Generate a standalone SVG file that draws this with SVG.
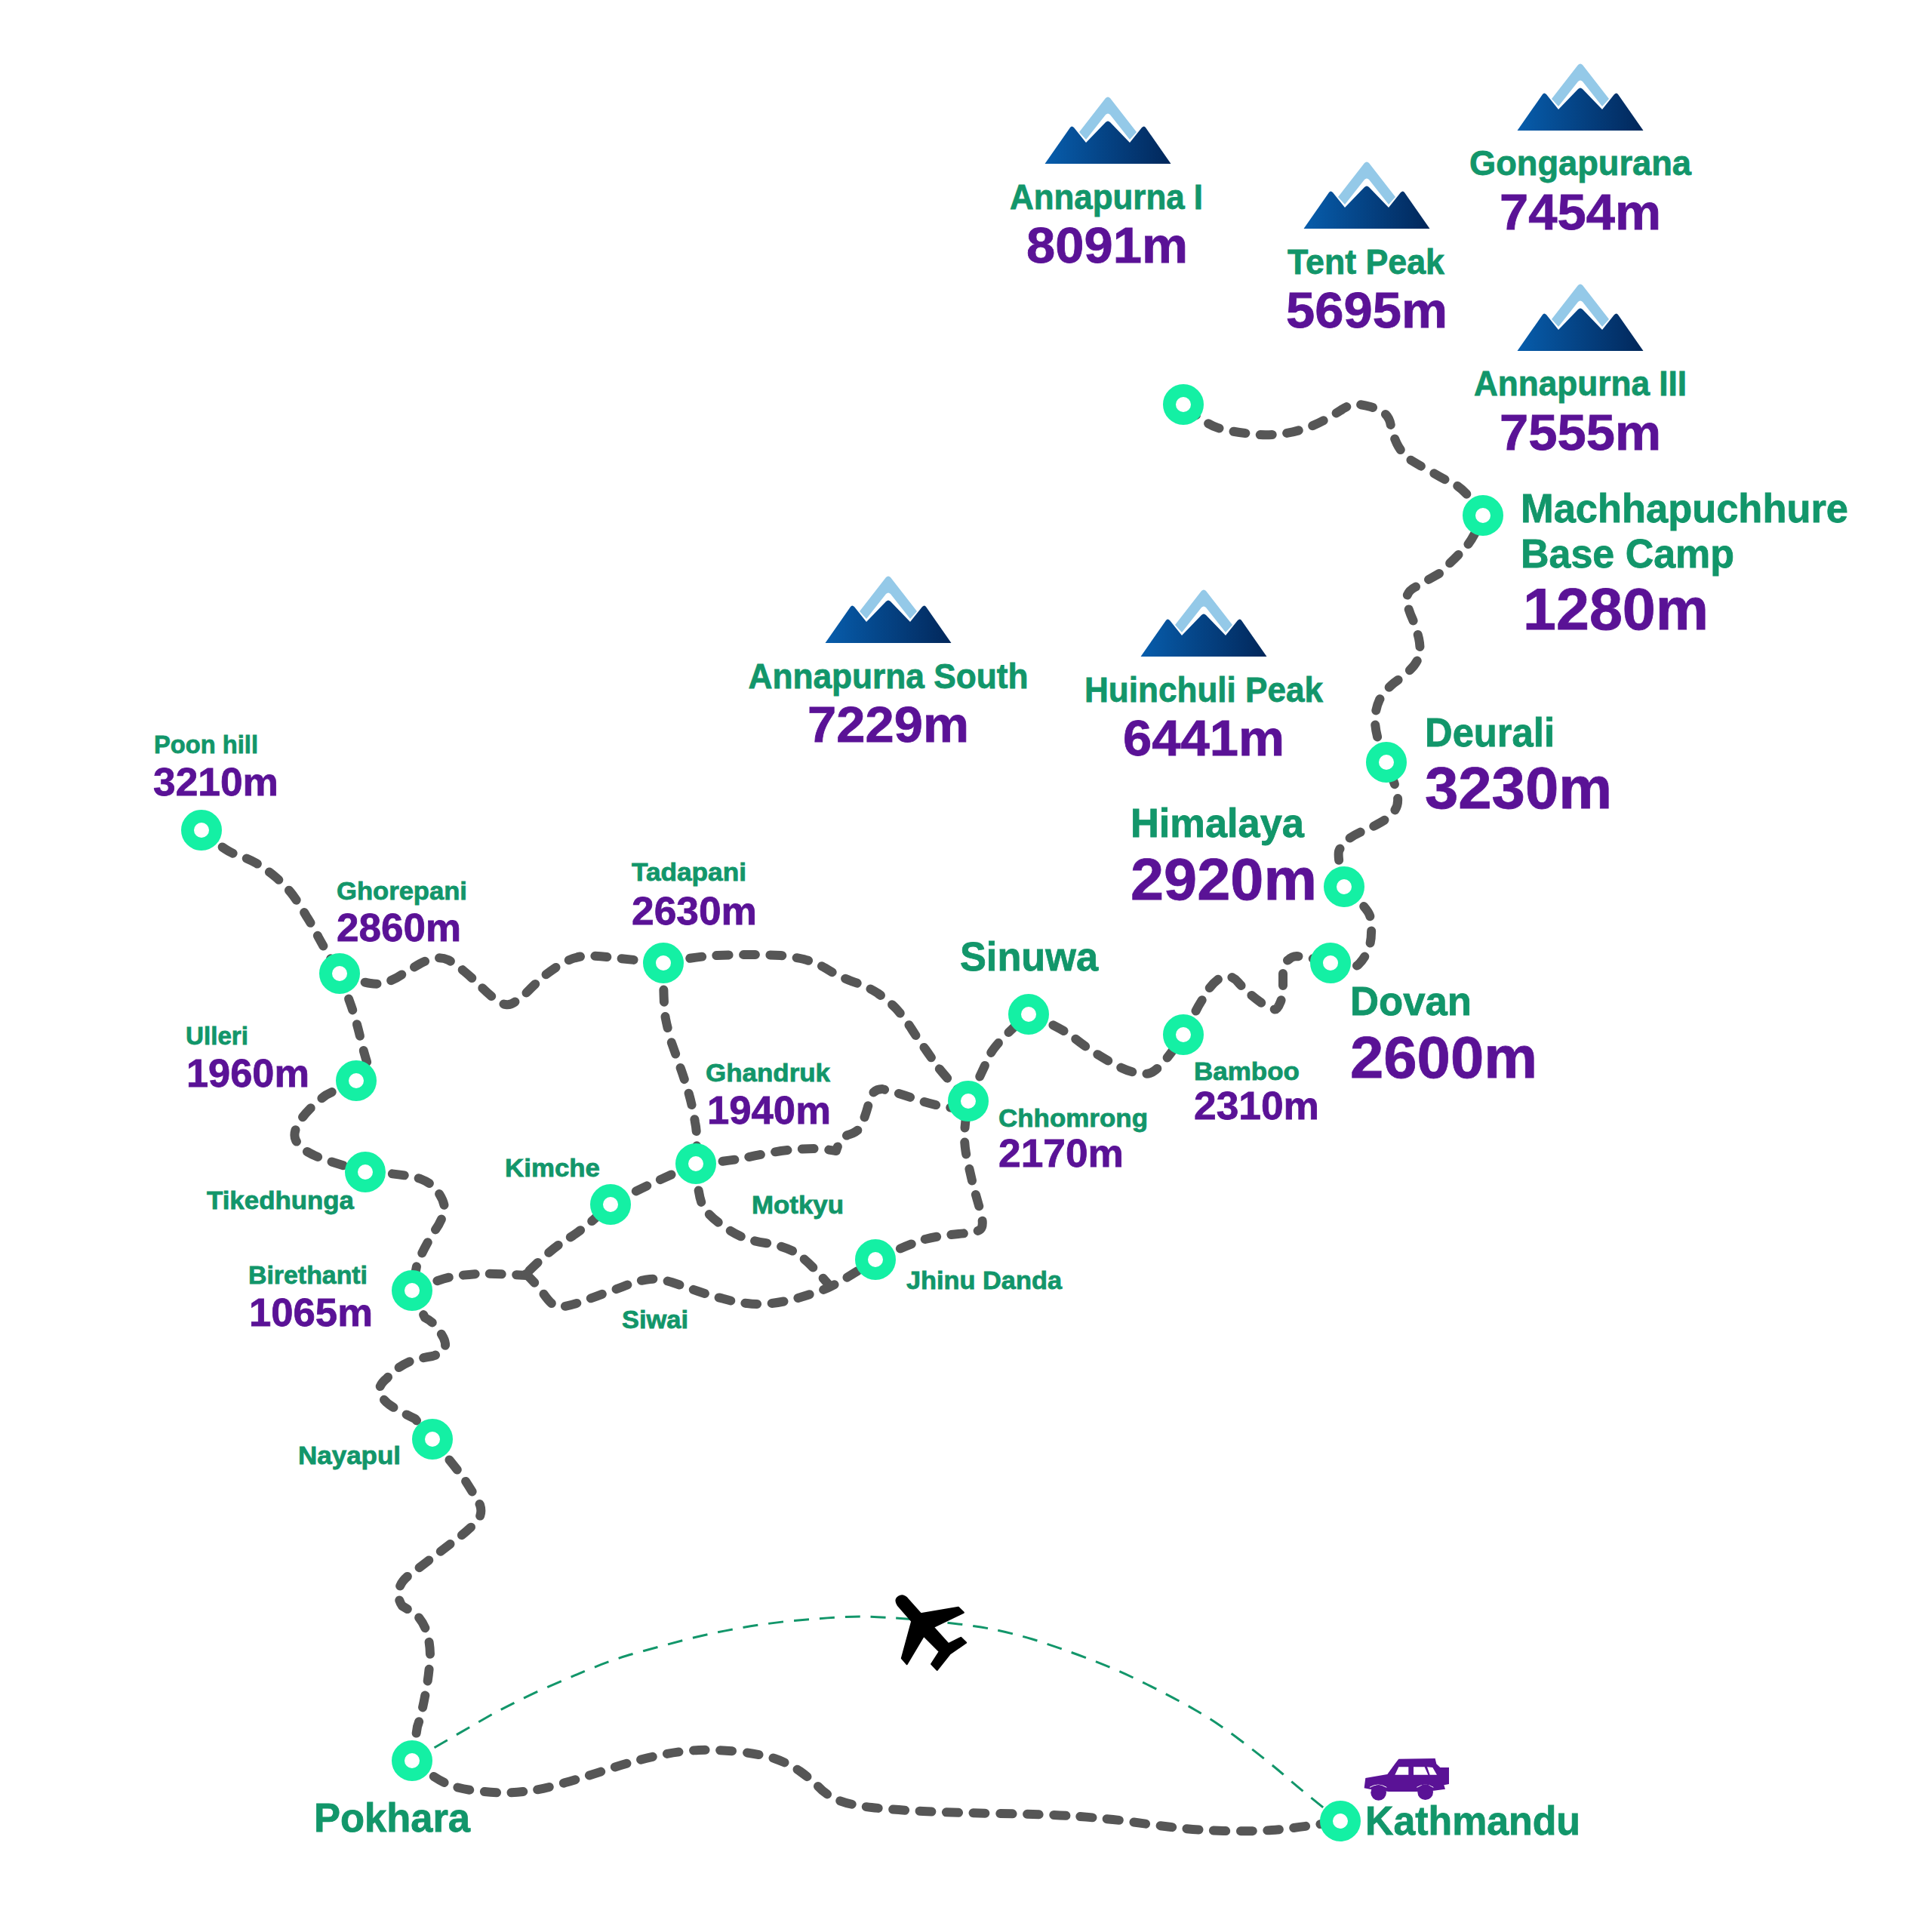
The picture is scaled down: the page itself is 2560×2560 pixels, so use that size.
<svg xmlns="http://www.w3.org/2000/svg" xmlns:xlink="http://www.w3.org/1999/xlink" width="2560" height="2560" viewBox="0 0 2560 2560">
<style>
text{font-family:"Liberation Sans",Arial,sans-serif;font-weight:700;stroke-width:.8}
.n{fill:#12966A;stroke:#12966A}.v{fill:#5A1296;stroke:#5A1296}
.s{font-size:34px}.sv{font-size:52px}
.m{font-size:46px;text-anchor:middle}.mv{font-size:66px;text-anchor:middle}
.l{font-size:54px}.lv{font-size:78px}
.ring{fill:#fff;stroke:#14F0A4;stroke-width:17}
.trail{fill:none;stroke:#565656;stroke-width:12;stroke-linecap:round;stroke-linejoin:round;stroke-dasharray:16 19.5}
.air{fill:none;stroke:#12966A;stroke-width:3;stroke-dasharray:20 14}
</style>
<defs>
<linearGradient id="mg" x1="0" y1="0" x2="1" y2="0"><stop offset="0" stop-color="#075DAC"/><stop offset="1" stop-color="#02275A"/></linearGradient>
<g id="peak">
<path d="M-38 -42L-3 -87Q0 -90 3 -87L38 -42L29 -32L3 -65Q0 -68 -3 -65L-29 -32Z" fill="#94C9E8"/>
<path d="M-83.5 0L-50 -48Q-48 -51 -45 -48L-29 -28L-3 -55Q0 -58 3 -55L29 -28L45 -48Q48 -51 50 -48L83.5 0Z" fill="url(#mg)"/>
</g>
</defs>
<rect width="2560" height="2560" fill="#fff"/>
<g id="connectors">
<path class="air" d="M546 2333Q623 2288 653 2271Q683 2255 715 2240Q747 2226 778 2213Q810 2200 830 2194Q850 2188 915 2171Q980 2155 1046 2148Q1113 2142 1140 2142Q1167 2142 1226 2147Q1285 2153 1311 2158Q1337 2163 1368 2172Q1400 2182 1440 2197Q1480 2212 1520 2232Q1560 2252 1584 2266Q1609 2280 1641 2304Q1673 2328 1699 2350Q1725 2373 1776 2413"/>
<path class="trail" d="M267 1100Q297 1127 312 1132Q327 1137 340 1144Q353 1152 365 1162Q378 1173 388 1186Q398 1200 406 1214Q415 1228 422 1242Q430 1257 450 1290"/>
<path class="trail" d="M450 1290Q480 1302 491 1303Q503 1305 513 1301Q523 1298 533 1291Q543 1285 553 1279Q563 1273 574 1270Q585 1268 594 1272Q603 1277 615 1287Q627 1297 637 1307Q647 1317 655 1323Q663 1330 670 1331Q677 1332 683 1327Q690 1323 700 1313Q710 1303 720 1294Q730 1286 744 1277Q758 1269 772 1267Q787 1266 804 1268Q821 1270 879 1276"/>
<path class="trail" d="M879 1276Q925 1267 950 1266Q976 1265 996 1265Q1017 1265 1034 1266Q1051 1268 1065 1271Q1080 1275 1094 1283Q1108 1292 1128 1300Q1149 1307 1163 1316Q1177 1326 1187 1336Q1197 1347 1207 1362Q1217 1378 1226 1390Q1235 1403 1243 1414Q1252 1426 1283 1459"/>
<path class="trail" d="M879 1276Q879 1334 882 1350Q885 1365 890 1382Q896 1399 902 1416Q908 1433 913 1450Q918 1468 921 1487Q925 1506 922 1542"/>
<path class="trail" d="M922 1542Q965 1539 988 1534Q1011 1529 1035 1525Q1060 1522 1078 1522Q1097 1523 1108 1525Q1112 1510 1123 1504Q1138 1500 1142 1490Q1149 1472 1152 1458Q1156 1443 1169 1443Q1190 1448 1212 1456Q1246 1468 1283 1470"/>
<path class="trail" d="M922 1542Q925 1590 933 1601Q942 1613 955 1622Q968 1632 981 1638Q994 1644 1014 1647Q1034 1650 1051 1658Q1068 1667 1097 1701"/>
<path class="trail" d="M922 1542Q856 1571 832 1584Q809 1596 790 1613Q770 1631 750 1643Q730 1655 697 1688"/>
<path class="trail" d="M546 1710Q582 1695 598 1692Q615 1689 632 1688Q650 1687 697 1690"/>
<path class="trail" d="M697 1688Q713 1704 720 1714Q727 1724 732 1728Q737 1733 748 1731Q760 1729 775 1723Q790 1718 805 1712Q821 1707 835 1701Q850 1696 861 1695Q873 1694 890 1699Q908 1705 925 1711Q942 1717 959 1721Q976 1726 990 1727Q1005 1729 1022 1727Q1040 1725 1057 1720Q1074 1715 1091 1709Q1108 1703 1160 1669"/>
<path class="trail" d="M1160 1669Q1206 1648 1226 1642Q1246 1637 1270 1635Q1295 1633 1299 1629Q1304 1625 1300 1608Q1295 1590 1290 1573Q1286 1556 1282 1538Q1278 1521 1278 1506Q1278 1491 1283 1459"/>
<path class="trail" d="M1283 1459Q1304 1414 1312 1397Q1321 1380 1363 1344"/>
<path class="trail" d="M1363 1343Q1408 1363 1423 1375Q1438 1387 1454 1397Q1470 1407 1486 1415Q1503 1423 1516 1422Q1522 1425 1532 1417Q1545 1407 1568 1371"/>
<path class="trail" d="M1568 1371L1588 1333Q1597 1318 1602 1310Q1608 1302 1615 1297Q1623 1293 1629 1294Q1635 1295 1641 1302Q1648 1310 1655 1316Q1663 1323 1673 1330Q1683 1337 1688 1337Q1692 1340 1697 1327Q1700 1318 1700 1310L1700 1287Q1700 1275 1707 1272Q1712 1267 1718 1267Q1735 1268 1763 1276"/>
<path class="trail" d="M1763 1276Q1793 1285 1800 1278Q1808 1270 1812 1260Q1817 1250 1817 1236Q1818 1223 1815 1213Q1812 1203 1781 1175"/>
<path class="trail" d="M1781 1175Q1772 1137 1774 1128Q1777 1120 1785 1113Q1793 1107 1804 1102Q1815 1098 1829 1090Q1843 1082 1848 1074Q1853 1067 1852 1057Q1852 1047 1837 1010"/>
<path class="trail" d="M1837 1010Q1822 975 1822 955Q1822 940 1828 927Q1837 913 1847 905Q1857 898 1867 889Q1877 880 1880 870Q1883 860 1880 846Q1877 833 1872 821Q1867 810 1865 801Q1860 785 1877 777L1907 760Q1933 735 1943 724Q1953 713 1965 683"/>
<path class="trail" d="M1965 683Q1943 650 1928 642Q1913 635 1898 626Q1883 618 1870 610Q1858 602 1851 588Q1845 575 1843 565Q1842 555 1836 549Q1830 543 1816 539Q1802 535 1794 536Q1787 537 1779 542Q1772 547 1756 556Q1740 565 1722 570Q1705 575 1686 576Q1668 577 1650 574Q1632 572 1614 567Q1597 562 1568 536"/>
<path class="trail" d="M450 1290Q460 1318 464 1329Q468 1340 472 1354Q476 1368 479 1382Q483 1397 487 1410L472 1432"/>
<path class="trail" d="M472 1432Q443 1445 432 1451Q422 1458 411 1469Q400 1480 394 1491Q388 1503 392 1511Q397 1520 407 1526Q417 1532 432 1537Q447 1542 484 1553"/>
<path class="trail" d="M484 1553Q535 1555 557 1562Q570 1567 577 1575Q589 1590 589 1602Q586 1618 575 1632Q558 1660 552 1678L546 1710"/>
<path class="trail" d="M546 1710L563 1746Q577 1753 585 1768Q594 1782 587 1790Q580 1795 573 1797Q555 1800 543 1804Q525 1812 513 1826Q498 1838 505 1849Q510 1858 520 1864Q535 1873 550 1880L573 1907"/>
<path class="trail" d="M573 1907Q597 1936 614 1958Q630 1983 636 1994Q640 2006 632 2016Q618 2030 603 2041L548 2083Q532 2093 529 2105Q526 2118 533 2128Q545 2135 553 2141Q563 2152 567 2168Q570 2180 570 2195Q568 2225 563 2248Q559 2270 553 2288L546 2333"/>
<path class="trail" d="M546 2333Q580 2360 598 2366Q616 2372 642 2374Q669 2377 693 2374Q717 2372 749 2362Q781 2353 813 2342Q845 2332 873 2326Q902 2320 926 2319Q950 2318 978 2321Q1006 2324 1026 2330Q1046 2337 1060 2347Q1074 2357 1084 2367Q1094 2378 1110 2385Q1127 2392 1155 2395Q1183 2398 1223 2400Q1263 2402 1323 2403Q1384 2404 1416 2406Q1448 2408 1484 2412Q1520 2417 1552 2421Q1585 2425 1621 2426Q1657 2427 1685 2425Q1713 2423 1776 2413"/>
</g>
<g id="mountain-annapurna-i"><use xlink:href="#peak" href="#peak" x="1468" y="217"/><text class="n m" x="1466" y="277" textLength="256" lengthAdjust="spacingAndGlyphs">Annapurna I</text><text class="v mv" x="1467" y="348" textLength="214" lengthAdjust="spacingAndGlyphs">8091m</text></g>
<g id="mountain-tent-peak"><use xlink:href="#peak" href="#peak" x="1811" y="303"/><text class="n m" x="1810" y="363" textLength="208" lengthAdjust="spacingAndGlyphs">Tent Peak</text><text class="v mv" x="1811" y="434" textLength="214" lengthAdjust="spacingAndGlyphs">5695m</text></g>
<g id="mountain-gongapurana"><use xlink:href="#peak" href="#peak" x="2094" y="173"/><text class="n m" x="2094" y="232" textLength="294" lengthAdjust="spacingAndGlyphs">Gongapurana</text><text class="v mv" x="2094" y="304" textLength="214" lengthAdjust="spacingAndGlyphs">7454m</text></g>
<g id="mountain-annapurna-iii"><use xlink:href="#peak" href="#peak" x="2094" y="465"/><text class="n m" x="2094" y="524" textLength="282" lengthAdjust="spacingAndGlyphs">Annapurna III</text><text class="v mv" x="2094" y="596" textLength="214" lengthAdjust="spacingAndGlyphs">7555m</text></g>
<g id="mountain-annapurna-south"><use xlink:href="#peak" href="#peak" x="1177" y="852"/><text class="n m" x="1177" y="912" textLength="371" lengthAdjust="spacingAndGlyphs">Annapurna South</text><text class="v mv" x="1177" y="983" textLength="214" lengthAdjust="spacingAndGlyphs">7229m</text></g>
<g id="mountain-huinchuli-peak"><use xlink:href="#peak" href="#peak" x="1595" y="870"/><text class="n m" x="1595" y="930" textLength="316" lengthAdjust="spacingAndGlyphs">Huinchuli Peak</text><text class="v mv" x="1595" y="1001" textLength="214" lengthAdjust="spacingAndGlyphs">6441m</text></g>
<g id="node-abc"><circle class="ring" cx="1568" cy="536" r="18.5"/></g>
<g id="node-machhapuchhure"><circle class="ring" cx="1965" cy="683" r="18.5"/><text class="n l" x="2015" y="692" textLength="434" lengthAdjust="spacingAndGlyphs">Machhapuchhure</text><text class="n l" x="2015" y="752" textLength="283" lengthAdjust="spacingAndGlyphs">Base Camp</text><text class="v lv" x="2018" y="834" textLength="246" lengthAdjust="spacingAndGlyphs">1280m</text></g>
<g id="node-deurali"><circle class="ring" cx="1837" cy="1010" r="18.5"/><text class="n l" x="1888" y="989" textLength="172" lengthAdjust="spacingAndGlyphs">Deurali</text><text class="v lv" x="1888" y="1071" textLength="248" lengthAdjust="spacingAndGlyphs">3230m</text></g>
<g id="node-himalaya"><circle class="ring" cx="1781" cy="1175" r="18.5"/><text class="n l" x="1498" y="1109" textLength="230" lengthAdjust="spacingAndGlyphs">Himalaya</text><text class="v lv" x="1498" y="1192" textLength="247" lengthAdjust="spacingAndGlyphs">2920m</text></g>
<g id="node-dovan"><circle class="ring" cx="1763" cy="1276" r="18.5"/><text class="n l" x="1789" y="1345" textLength="161" lengthAdjust="spacingAndGlyphs">Dovan</text><text class="v lv" x="1789" y="1428" textLength="248" lengthAdjust="spacingAndGlyphs">2600m</text></g>
<g id="node-bamboo"><circle class="ring" cx="1568" cy="1371" r="18.5"/><text class="n s" x="1582" y="1431" textLength="140" lengthAdjust="spacingAndGlyphs">Bamboo</text><text class="v sv" x="1582" y="1483" textLength="166" lengthAdjust="spacingAndGlyphs">2310m</text></g>
<g id="node-sinuwa"><circle class="ring" cx="1363" cy="1344" r="18.5"/><text class="n l" x="1272" y="1286" textLength="183" lengthAdjust="spacingAndGlyphs">Sinuwa</text></g>
<g id="node-chhomrong"><circle class="ring" cx="1283" cy="1459" r="18.5"/><text class="n s" x="1323" y="1493" textLength="198" lengthAdjust="spacingAndGlyphs">Chhomrong</text><text class="v sv" x="1323" y="1546" textLength="166" lengthAdjust="spacingAndGlyphs">2170m</text></g>
<g id="node-jhinu-danda"><circle class="ring" cx="1160" cy="1669" r="18.5"/><text class="n s" x="1201" y="1708" textLength="206" lengthAdjust="spacingAndGlyphs">Jhinu Danda</text></g>
<g id="node-tadapani"><circle class="ring" cx="879" cy="1276" r="18.5"/><text class="n s" x="837" y="1167" textLength="152" lengthAdjust="spacingAndGlyphs">Tadapani</text><text class="v sv" x="837" y="1225" textLength="166" lengthAdjust="spacingAndGlyphs">2630m</text></g>
<g id="node-ghandruk"><circle class="ring" cx="922" cy="1542" r="18.5"/><text class="n s" x="935" y="1433" textLength="165" lengthAdjust="spacingAndGlyphs">Ghandruk</text><text class="v sv" x="937" y="1489" textLength="164" lengthAdjust="spacingAndGlyphs">1940m</text></g>
<g id="node-kimche"><circle class="ring" cx="809" cy="1596" r="18.5"/><text class="n s" x="669" y="1559" textLength="126" lengthAdjust="spacingAndGlyphs">Kimche</text></g>
<g id="label-motkyu"><text class="n s" x="996" y="1608" textLength="122" lengthAdjust="spacingAndGlyphs">Motkyu</text></g>
<g id="label-siwai"><text class="n s" x="824" y="1760" textLength="88" lengthAdjust="spacingAndGlyphs">Siwai</text></g>
<g id="node-poon-hill"><circle class="ring" cx="267" cy="1100" r="18.5"/><text class="n s" x="204" y="998" textLength="138" lengthAdjust="spacingAndGlyphs">Poon hill</text><text class="v sv" x="203" y="1054" textLength="166" lengthAdjust="spacingAndGlyphs">3210m</text></g>
<g id="node-ghorepani"><circle class="ring" cx="450" cy="1290" r="18.5"/><text class="n s" x="446" y="1192" textLength="173" lengthAdjust="spacingAndGlyphs">Ghorepani</text><text class="v sv" x="446" y="1247" textLength="165" lengthAdjust="spacingAndGlyphs">2860m</text></g>
<g id="node-ulleri"><circle class="ring" cx="472" cy="1432" r="18.5"/><text class="n s" x="246" y="1384" textLength="83" lengthAdjust="spacingAndGlyphs">Ulleri</text><text class="v sv" x="247" y="1440" textLength="163" lengthAdjust="spacingAndGlyphs">1960m</text></g>
<g id="node-tikedhunga"><circle class="ring" cx="484" cy="1553" r="18.5"/><text class="n s" x="274" y="1602" textLength="195" lengthAdjust="spacingAndGlyphs">Tikedhunga</text></g>
<g id="node-birethanti"><circle class="ring" cx="546" cy="1710" r="18.5"/><text class="n s" x="329" y="1701" textLength="158" lengthAdjust="spacingAndGlyphs">Birethanti</text><text class="v sv" x="330" y="1757" textLength="164" lengthAdjust="spacingAndGlyphs">1065m</text></g>
<g id="node-nayapul"><circle class="ring" cx="573" cy="1907" r="18.5"/><text class="n s" x="395" y="1940" textLength="136" lengthAdjust="spacingAndGlyphs">Nayapul</text></g>
<g id="node-pokhara"><circle class="ring" cx="546" cy="2333" r="18.5"/><text class="n l" x="416" y="2427" textLength="207" lengthAdjust="spacingAndGlyphs">Pokhara</text></g>
<g id="node-kathmandu"><circle class="ring" cx="1776" cy="2413" r="18.5"/><text class="n l" x="1809" y="2431" textLength="285" lengthAdjust="spacingAndGlyphs">Kathmandu</text></g>
<g id="plane" transform="translate(1100 2050) scale(.3333)"><path d="M270 232Q255 210 272 198Q288 186 305 203L360 265L510 240L530 260L410 318L470 385L520 360L540 380L475 425L425 488L403 465L435 415L372 352L305 465L285 442L325 295Z" fill="#000" stroke="#000" stroke-width="7" stroke-linejoin="round"/></g>
<g id="car" transform="translate(1700 2300) scale(.3333)"><path d="M323 208L328 168L415 153L445 112L460 92L605 90L610 112L625 126L660 126L660 192L640 196L645 212L600 218L530 222L420 222L345 212Z" fill="#5A1296"/><path d="M345 205Q378 185 412 205M532 205Q566 185 598 205" fill="none" stroke="#fff" stroke-width="3"/><circle cx="380" cy="226" r="31" fill="#5A1296"/><circle cx="566" cy="224" r="31" fill="#5A1296"/><path d="M445 155L460 124L499 124L499 155ZM519 124L563 124L577 155L519 155ZM573 124L595 126L612 155L584 155Z" fill="#fff"/></g>
</svg>
